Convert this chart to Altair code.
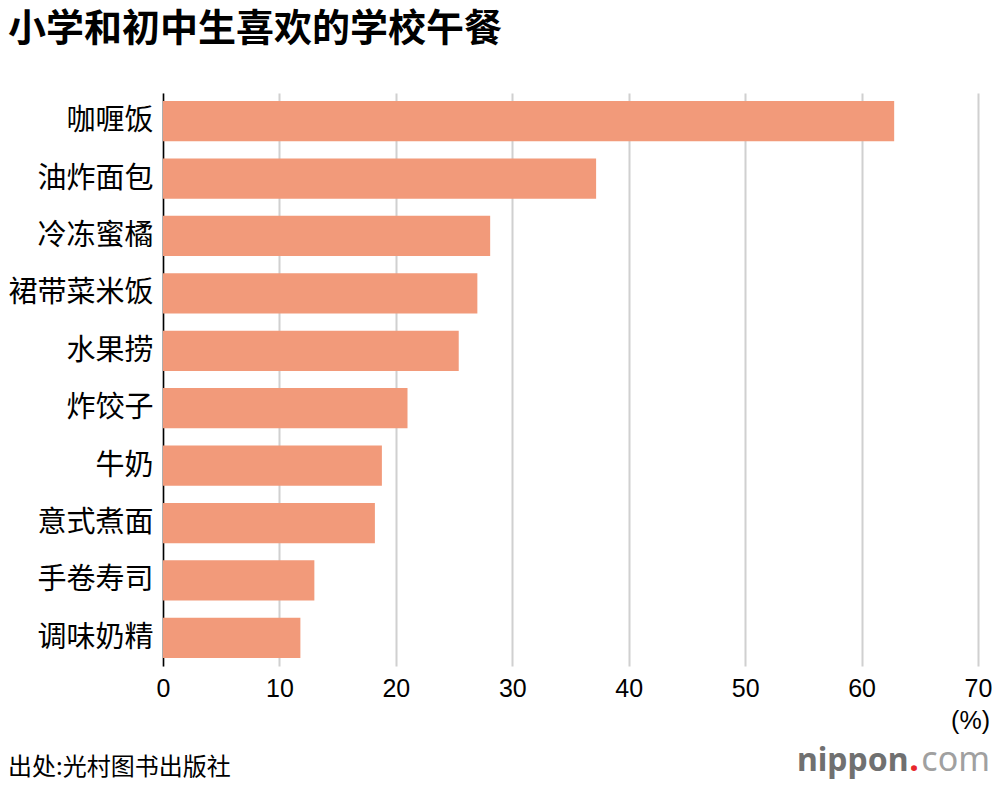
import altair as alt
import pandas as pd

foods = ["咖喱饭", "油炸面包", "冷冻蜜橘", "裙带菜米饭", "水果捞", "炸饺子", "牛奶", "意式煮面", "手卷寿司", "调味奶精"]
shares = [62.8, 37.2, 28.1, 27.0, 25.4, 21.0, 18.8, 18.2, 13.0, 11.8]
x_ticks = [0, 10, 20, 30, 40, 50, 60, 70]

title_text = "小学和初中生喜欢的学校午餐"
unit_text = "(%)"
source_text = "出处:光村图书出版社"

df = pd.DataFrame({"food": foods, "share": shares})

CJK = "Noto Sans CJK SC"
LAT = "Liberation Sans"

bars = alt.Chart(df).mark_bar(color="#F29A7A").encode(
    x=alt.X("share:Q",
            scale=alt.Scale(domain=[0, 70], nice=False),
            axis=alt.Axis(values=x_ticks, title=None, domain=False, ticks=False,
                          grid=True, gridColor="#d0d0d0", gridWidth=2,
                          labelFont=LAT, labelFontSize=25, labelColor="#000",
                          labelPadding=10, labelFlush=False)),
    y=alt.Y("food:N", sort=None,
            scale=alt.Scale(paddingInner=0.3, paddingOuter=0.14),
            axis=alt.Axis(title=None, ticks=False, domain=True, domainColor="#000",
                          domainWidth=1.5, labelFont=CJK, labelFontSize=29,
                          labelColor="#000", labelPadding=10, grid=False)),
)

unit = alt.Chart(pd.DataFrame({"t": [unit_text]})).mark_text(
    font=LAT, fontSize=25, color="#000", align="right", baseline="alphabetic"
).encode(text="t:N", x=alt.value(827), y=alt.value(636))

source = alt.Chart(pd.DataFrame({"t": [source_text]})).mark_text(
    font=CJK, fontSize=24, color="#000", align="left", baseline="alphabetic"
).encode(text="t:N", x=alt.value(-155), y=alt.value(682))

logo1 = alt.Chart(pd.DataFrame({"t": ["nippon"]})).mark_text(
    font="Noto Sans", fontSize=32, fontWeight="bold", color="#707070", align="left", baseline="alphabetic"
).encode(text="t:N", x=alt.value(634), y=alt.value(678))

logo2 = alt.Chart(pd.DataFrame({"t": ["com"]})).mark_text(
    font="Noto Sans", fontSize=34, color="#a0a0a0", align="right", baseline="alphabetic"
).encode(text="t:N", x=alt.value(827), y=alt.value(678))

logo3 = alt.Chart(pd.DataFrame({"t": ["."]})).mark_text(
    font="Noto Sans", fontSize=34, fontWeight="bold", color="#e8262b", align="center", baseline="alphabetic"
).encode(text="t:N", x=alt.value(751), y=alt.value(678))

chart = alt.layer(bars, unit, source, logo1, logo2, logo3).properties(
    width=815, height=573,
    autosize=alt.AutoSizeParams(type="none"),
    padding={"left": 155, "top": 85, "right": 14, "bottom": 116},
    title=alt.TitleParams(title_text, anchor="start", frame="group", dx=-155,
                          font=CJK, fontSize=38, fontWeight="bold", color="#000",
                          offset=44),
).configure(background="white").configure_view(stroke=None)

chart.save("out.html", embed_options={"renderer": "svg", "actions": False})
